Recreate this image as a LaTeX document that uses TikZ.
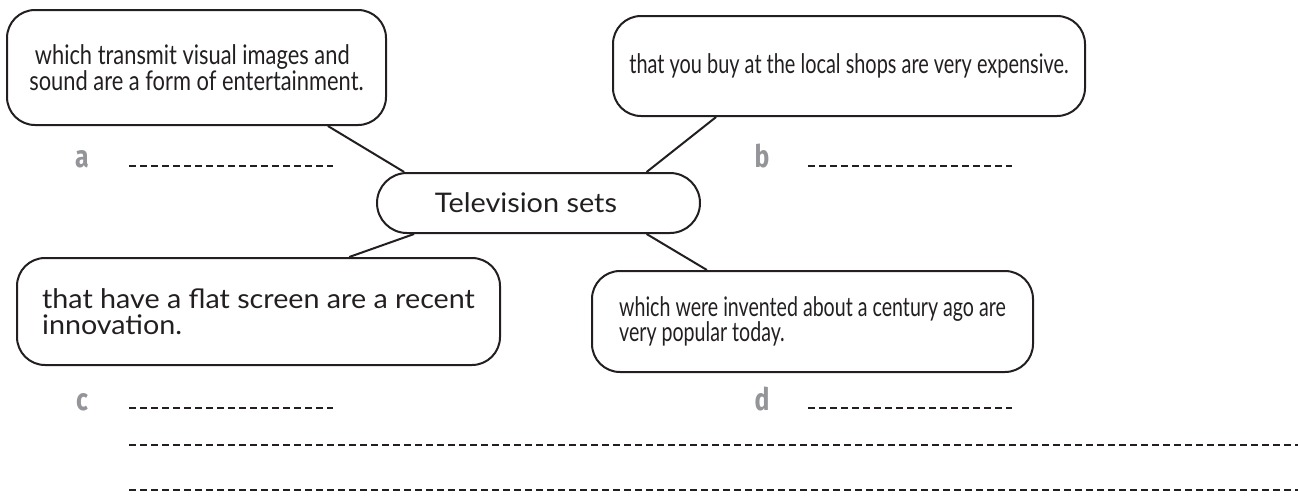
\documentclass[tikz,border=0pt]{standalone}
\usepackage{fontspec}
\setmainfont{Lato}
\newfontfamily\labelfont{Fira Sans}[FakeStretch=0.8, BoldFont={Fira Sans Bold}]
\definecolor{ink}{HTML}{231F20}
\definecolor{taggrey}{HTML}{939598}
\tikzset{
  bubble/.style={draw=ink, line width=2pt, rounded corners=28pt, text=ink,
    align=left, inner sep=0pt},
  squeeze/.style={font=\fontsize{27}{25.5}\selectfont\addfontfeatures{FakeStretch=#1}},
  tag/.style={text=taggrey, anchor=base, inner sep=0pt,
    font=\labelfont\bfseries\fontsize{31}{31}\selectfont},
  answer/.style={ink, line width=1.5pt, dash pattern=on 6.5pt off 4.5pt},
}
\begin{document}
\begin{tikzpicture}[x=1pt,y=-1pt]
  \useasboundingbox (0,0) rectangle (1298,496);
  \node[bubble, squeeze=1.069, minimum width=323, minimum height=60, rounded corners=30pt]
    (tv) at (538.5,203) {Television sets\hspace*{25pt}};
  \node[bubble, squeeze=0.81, minimum width=379, minimum height=115]
    (transmit) at (196.5,67.5) {\ which transmit visual images and\\sound are a form of entertainment.};
  \node[bubble, squeeze=0.737, minimum width=472, minimum height=100]
    (shops) at (849,66) {that you buy at the local shops are very expensive.};
  \node[bubble, squeeze=1.063, minimum width=483, minimum height=107]
    (flat) at (258.5,311.5) {that have a flat screen are a recent\\innovation.};
  \node[bubble, squeeze=0.726, minimum width=441, minimum height=101]
    (invented) at (812.5,321.5) {which were invented about a century ago are\\very popular today.};
  \path[draw=ink, line width=2pt]
    (transmit.-24.1) edge (tv.167.95)
    (shops.-159.5)   edge (tv.16)
    (tv.-166.6)      edge (flat.31.2)
    (tv.-16.5)       edge (invented.154.4);
  % answer lines
  \node[tag] (a) at (82,167) {a};
  \node[tag] (b) at (762,167) {b};
  \node[tag] (c) at (82,410) {c};
  \node[tag] (d) at (762,410) {d};
  \draw[answer] (129,166) -- (333,166);
  \draw[answer] (808,166) -- (1012,166);
  \draw[answer] (129,408) -- (333,408);
  \draw[answer] (808,408) -- (1012,408);
  \draw[answer] (129,445) -- (1298,445);
  \draw[answer] (129,490) -- (1298,490);
\end{tikzpicture}
\end{document}
